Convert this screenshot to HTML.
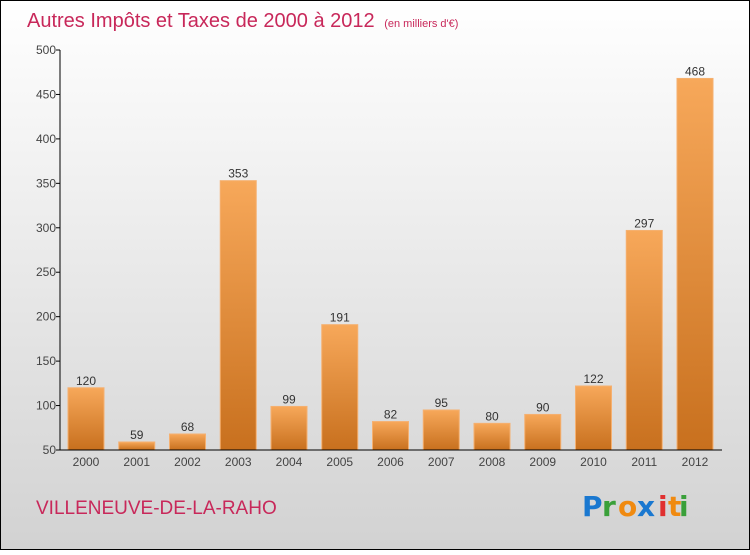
<!DOCTYPE html>
<html><head><meta charset="utf-8"><style>
html,body{margin:0;padding:0;}
body{width:750px;height:550px;overflow:hidden;font-family:"Liberation Sans",sans-serif;}
</style></head><body>
<svg id="chart" width="750" height="550" xmlns="http://www.w3.org/2000/svg">
<defs>
<linearGradient id="bg" x1="0" y1="0" x2="0" y2="1"><stop offset="0" stop-color="#ffffff"/><stop offset="1" stop-color="#d2d2d2"/></linearGradient>
<linearGradient id="bar" x1="0" y1="0" x2="0" y2="1"><stop offset="0" stop-color="#f7a85a"/><stop offset="1" stop-color="#c8701e"/></linearGradient>
</defs>
<rect x="0.5" y="0.5" width="749" height="549" fill="url(#bg)" stroke="#000"/>
<text x="27" y="27" font-size="20" fill="#c8285a">Autres Impôts et Taxes de 2000 à 2012 <tspan font-size="11" dx="4">(en milliers d'€)</tspan></text>
<g id="plot"></g>
<text x="36" y="514" font-size="19" fill="#c8285a">VILLENEUVE-DE-LA-RAHO</text>
<g font-size="28" font-weight="bold" font-family="'DejaVu Sans',sans-serif">
<text x="582" y="516" fill="#1a78d0">P</text><text x="602" y="516" fill="#3aa03a">r</text><text x="618" y="516" fill="#f08a10">o</text><text x="637" y="516" fill="#1a78d0">x</text><text x="658" y="516" fill="#e03030">i</text><text x="668" y="516" fill="#f08a10">t</text><text x="679" y="516" fill="#3aa03a">i</text>
</g>
</svg>
<script>
const years=["2000","2001","2002","2003","2004","2005","2006","2007","2008","2009","2010","2011","2012"];
const values=[120,59,68,353,99,191,82,95,80,90,122,297,468];
const yTicks=[50,100,150,200,250,300,350,400,450,500];
(function(){
const NS="http://www.w3.org/2000/svg";
const g=document.getElementById('plot');
const yMin=50,yMax=500,plotTop=50,plotBot=450,plotLeft=60,plotRight=722;
function yS(v){return plotBot-(v-yMin)/(yMax-yMin)*(plotBot-plotTop);}
const step=50.75,bw=36,x0=68;
function xS(i){return x0+i*step;}
function mk(t,a,txt){const e=document.createElementNS(NS,t);for(const k in a)e.setAttribute(k,a[k]);if(txt!==undefined)e.textContent=txt;g.appendChild(e);return e;}
yTicks.forEach(v=>{
 const y=yS(v);
 const t=mk('line',{x1:plotLeft-4,x2:plotLeft,y1:y,y2:y,stroke:'#000'});
 
 
 const l=mk('text',{x:plotLeft-4,y:y+4,'text-anchor':'end','font-size':12,fill:'#444'},String(v));
 
 
});
values.forEach((v,i)=>{
 const x=xS(i),y=yS(v);
 const r=mk('rect',{x:x,y:y,width:bw,height:plotBot-y,fill:'url(#bar)',stroke:'#f5b070','stroke-width':1});
 
 
 const vl=mk('text',{x:x+bw/2,y:y-3,'text-anchor':'middle','font-size':12,fill:'#333'},String(v));
 
 
 const xl=mk('text',{x:x+bw/2,y:plotBot+16,'text-anchor':'middle','font-size':12,fill:'#444'},years[i]);
 
 
});
const ya=mk('line',{x1:plotLeft,x2:plotLeft,y1:plotTop,y2:plotBot,stroke:'#000'});


const xa=mk('line',{x1:plotLeft,x2:plotRight,y1:plotBot,y2:plotBot,stroke:'#000'});


})();
</script>
</body></html>
